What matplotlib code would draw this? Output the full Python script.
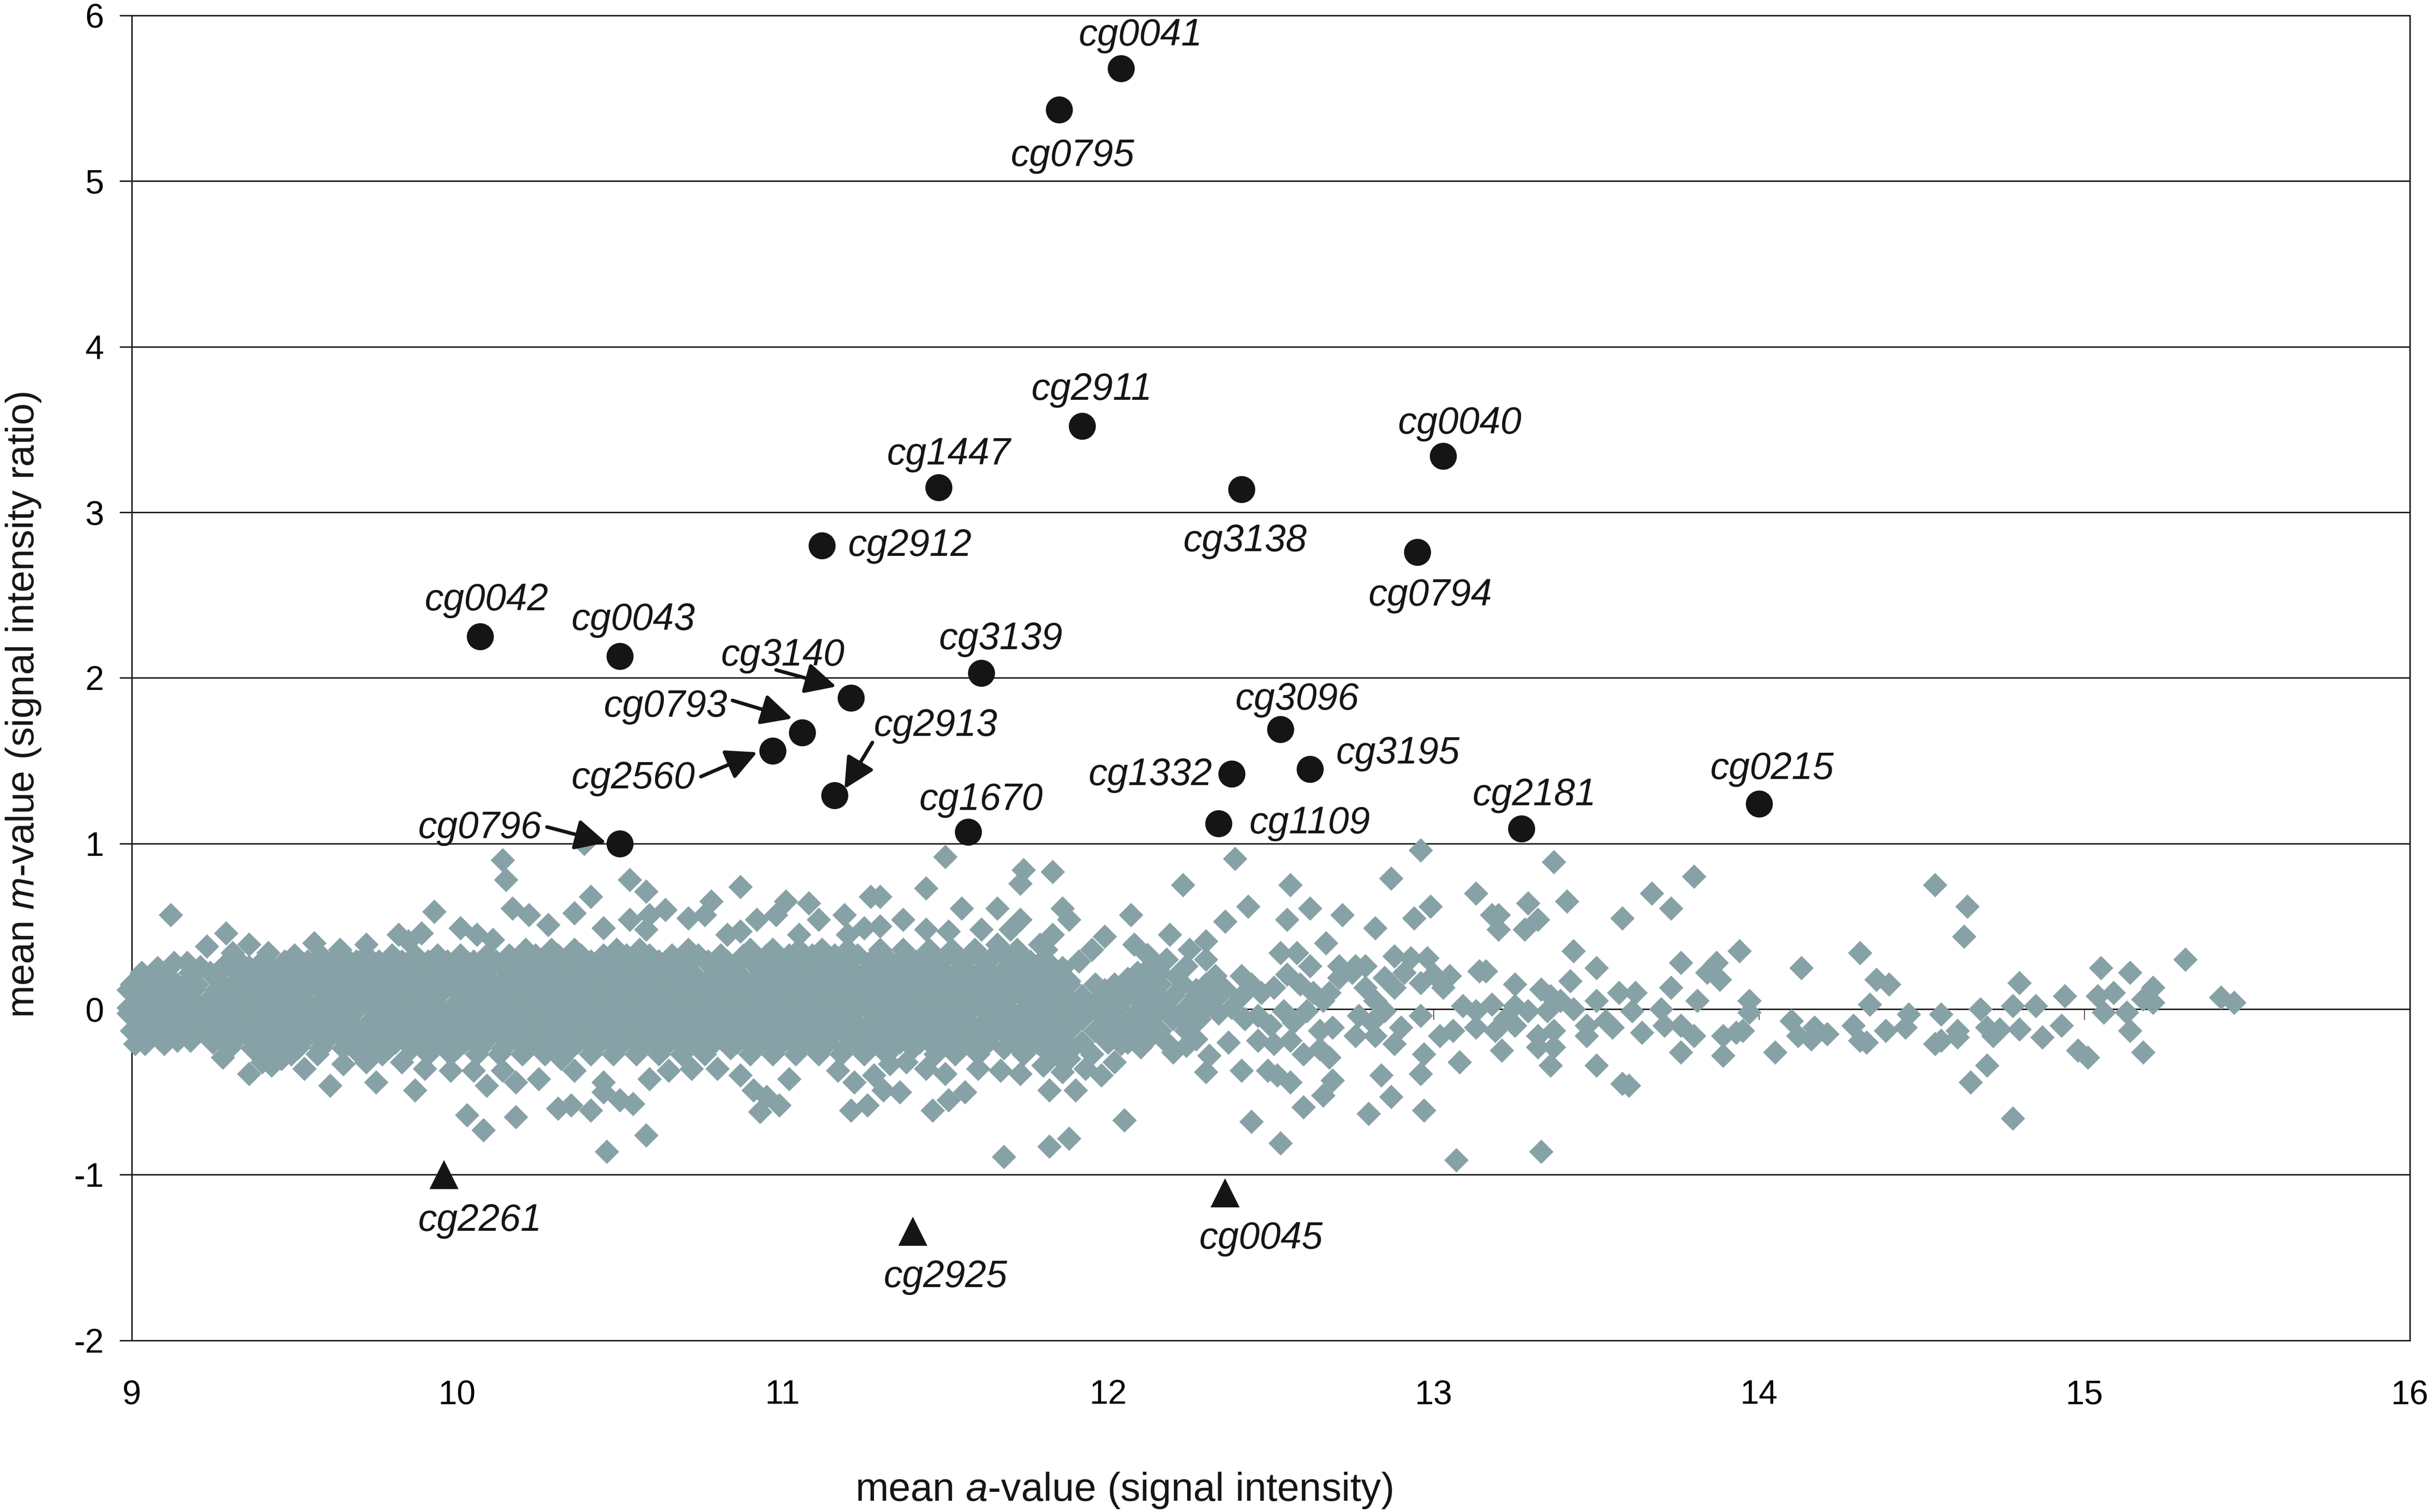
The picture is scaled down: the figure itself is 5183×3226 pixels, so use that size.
"""
MA plot of probe signal: mean a-value against mean m-value,
with the called probes marked and labelled.
"""
import numpy as np
import matplotlib
matplotlib.use('Agg')
import matplotlib.pyplot as plt

plt.rcParams['font.family'] = ['Liberation Sans', 'DejaVu Sans']
plt.rcParams['mathtext.fontset'] = 'custom'
plt.rcParams['mathtext.rm'] = 'Liberation Sans'
plt.rcParams['mathtext.it'] = 'Liberation Sans:italic'
plt.rcParams['axes.unicode_minus'] = False

# ---- probes with m-value above 1 (black dots)
up_names = ['cg0041', 'cg0795', 'cg2911', 'cg0040', 'cg1447', 'cg3138', 'cg2912',
            'cg0794', 'cg0042', 'cg0043', 'cg3139', 'cg3140', 'cg0793', 'cg2560',
            'cg2913', 'cg3096', 'cg3195', 'cg1332', 'cg0215', 'cg1109', 'cg2181',
            'cg1670', 'cg0796']
up_a = [12.04, 11.85, 11.92, 13.03, 11.48, 12.41, 11.12, 12.95, 10.07, 10.50, 11.61,
        11.21, 11.06, 10.97, 11.16, 12.53, 12.62, 12.38, 14.00, 12.34, 13.27, 11.57, 10.50]
up_m = [5.68, 5.43, 3.52, 3.34, 3.15, 3.14, 2.80, 2.76, 2.25, 2.13, 2.03, 1.88, 1.67,
        1.56, 1.29, 1.69, 1.45, 1.42, 1.24, 1.12, 1.09, 1.07, 1.00]

# ---- probes with m-value below -1 (black triangles)
down_names = ['cg2261', 'cg2925', 'cg0045']
down_a = [9.96, 11.40, 12.36]
down_m = [-1.00, -1.34, -1.11]

# ---- the bulk of the probes (grey diamonds)
# dense band, one list of a-values per m-value row
band_rows = {
    0.36: [10.21, 10.29, 10.36, 10.49, 10.56, 10.71, 10.90, 10.97, 11.05, 11.12, 11.20,
           11.30, 11.37, 11.45, 11.52, 11.59, 11.67, 11.72, 11.81],
    0.325: [9.50, 9.58, 9.65, 9.72, 9.80, 9.87, 9.94, 10.01, 10.09, 10.16, 10.24, 10.31,
            10.38, 10.45, 10.52, 10.59, 10.66, 10.74, 10.81, 10.88, 10.95, 11.02, 11.09,
            11.16, 11.23, 11.31, 11.38, 11.44, 11.51, 11.58, 11.65, 11.73],
    0.29: [9.33, 9.40, 9.47, 9.54, 9.62, 9.69, 9.76, 9.83, 9.91, 9.97, 10.05, 10.12,
           10.19, 10.26, 10.34, 10.41, 10.47, 10.55, 10.62, 10.69, 10.77, 10.83, 10.91,
           10.98, 11.05, 11.12, 11.19, 11.27, 11.33, 11.41, 11.48, 11.55, 11.62, 11.70,
           11.76],
    0.255: [9.21, 9.28, 9.36, 9.43, 9.50, 9.57, 9.64, 9.71, 9.79, 9.85, 9.92, 9.99, 10.06,
            10.14, 10.21, 10.28, 10.35, 10.42, 10.49, 10.56, 10.63, 10.70, 10.78, 10.85,
            10.92, 10.99, 11.06, 11.13, 11.20, 11.27, 11.34, 11.41, 11.48, 11.55, 11.62,
            11.69, 11.76, 11.83],
    0.22: [9.10, 9.18, 9.24, 9.32, 9.39, 9.45, 9.53, 9.60, 9.66, 9.74, 9.81, 9.87, 9.95,
           10.02, 10.08, 10.16, 10.23, 10.30, 10.37, 10.44, 10.51, 10.58, 10.65, 10.72,
           10.80, 10.86, 10.94, 11.01, 11.08, 11.15, 11.22, 11.29, 11.36, 11.43, 11.50,
           11.57, 11.64, 11.71, 11.78, 11.85, 12.09, 12.16],
    0.185: [9.04, 9.11, 9.18, 9.26, 9.33, 9.40, 9.47, 9.54, 9.61, 9.68, 9.75, 9.82, 9.89,
            9.96, 10.03, 10.10, 10.17, 10.24, 10.31, 10.38, 10.46, 10.52, 10.60, 10.67,
            10.74, 10.81, 10.88, 10.95, 11.02, 11.09, 11.16, 11.23, 11.30, 11.37, 11.44,
            11.51, 11.58, 11.65, 11.72, 11.79, 11.86, 12.06, 12.13],
    0.15: [9.00, 9.07, 9.14, 9.20, 9.28, 9.35, 9.42, 9.49, 9.57, 9.63, 9.70, 9.77, 9.85,
           9.91, 9.98, 10.05, 10.13, 10.19, 10.26, 10.34, 10.40, 10.47, 10.55, 10.61,
           10.69, 10.76, 10.83, 10.90, 10.97, 11.04, 11.11, 11.18, 11.25, 11.32, 11.39,
           11.46, 11.54, 11.60, 11.67, 11.74, 11.81, 11.88, 11.96, 12.02, 12.09, 12.16,
           12.23],
    0.115: [8.99, 9.05, 9.12, 9.19, 9.26, 9.33, 9.40, 9.47, 9.54, 9.61, 9.68, 9.75, 9.82,
            9.89, 9.96, 10.03, 10.10, 10.17, 10.24, 10.31, 10.38, 10.45, 10.52, 10.59,
            10.66, 10.73, 10.80, 10.87, 10.94, 11.01, 11.08, 11.15, 11.22, 11.29, 11.36,
            11.43, 11.50, 11.57, 11.64, 11.71, 11.78, 11.85, 11.99, 12.06, 12.13,
            12.27, 12.34],
    0.08: [9.01, 9.04, 9.11, 9.17, 9.25, 9.31, 9.38, 9.46, 9.52, 9.60, 9.67, 9.73, 9.81,
           9.88, 9.94, 10.02, 10.09, 10.16, 10.23, 10.30, 10.37, 10.44, 10.51, 10.58,
           10.65, 10.72, 10.79, 10.86, 10.93, 11.00, 11.07, 11.14, 11.22, 11.28, 11.36,
           11.42, 11.50, 11.57, 11.64, 11.70, 11.78, 11.85, 11.92, 11.99, 12.06, 12.13,
           12.20, 12.27, 12.34, 12.41],
    0.045: [9.03, 9.09, 9.16, 9.23, 9.30, 9.37, 9.44, 9.51, 9.58, 9.65, 9.72, 9.79, 9.86,
            9.93, 10.00, 10.07, 10.14, 10.21, 10.28, 10.35, 10.42, 10.49, 10.56, 10.63,
            10.70, 10.77, 10.84, 10.91, 10.98, 11.05, 11.12, 11.19, 11.26, 11.33, 11.40,
            11.47, 11.54, 11.61, 11.68, 11.75, 11.82, 11.89, 11.96, 12.03, 12.10, 12.17,
            12.31],
    0.01: [8.99, 9.07, 9.13, 9.21, 9.27, 9.35, 9.41, 9.49, 9.56, 9.63, 9.69, 9.77, 9.84,
           9.91, 9.99, 10.05, 10.12, 10.20, 10.27, 10.33, 10.41, 10.48, 10.54, 10.62,
           10.69, 10.75, 10.83, 10.90, 10.96, 11.04, 11.11, 11.18, 11.26, 11.32, 11.39,
           11.47, 11.53, 11.61, 11.67, 11.75, 11.82, 11.89, 11.95, 12.03, 12.10, 12.17,
           12.24, 12.30, 12.38],
    -0.025: [8.99, 9.05, 9.12, 9.19, 9.26, 9.33, 9.40, 9.47, 9.54, 9.61, 9.68, 9.75, 9.82,
             9.89, 9.96, 10.03, 10.10, 10.17, 10.24, 10.31, 10.38, 10.45, 10.52, 10.59,
             10.66, 10.73, 10.80, 10.87, 10.94, 11.01, 11.08, 11.15, 11.22, 11.29, 11.36,
             11.43, 11.50, 11.57, 11.64, 11.71, 11.78, 11.85, 11.92, 11.99, 12.13,
             12.20, 12.34],
    -0.06: [9.02, 9.10, 9.17, 9.24, 9.31, 9.38, 9.45, 9.53, 9.59, 9.66, 9.74, 9.80, 9.88,
            9.95, 10.01, 10.09, 10.16, 10.22, 10.30, 10.37, 10.45, 10.51, 10.58, 10.66,
            10.72, 10.79, 10.87, 10.93, 11.01, 11.07, 11.15, 11.21, 11.29, 11.35, 11.43,
            11.50, 11.56, 11.64, 11.71, 11.78, 11.85, 11.92, 11.99, 12.07, 12.13, 12.20,
            12.28, 12.42],
    -0.095: [9.03, 9.09, 9.16, 9.23, 9.30, 9.37, 9.44, 9.51, 9.58, 9.65, 9.72, 9.79, 9.86,
             9.93, 10.00, 10.07, 10.14, 10.21, 10.28, 10.35, 10.42, 10.49, 10.56, 10.63,
             10.70, 10.77, 10.84, 10.91, 10.98, 11.05, 11.12, 11.19, 11.26, 11.33, 11.40,
             11.47, 11.54, 11.61, 11.68, 11.75, 11.82, 11.89, 12.03, 12.10, 12.24],
    -0.13: [9.00, 9.06, 9.14, 9.21, 9.28, 9.34, 9.42, 9.49, 9.56, 9.63, 9.70, 9.78, 9.84,
            9.92, 9.98, 10.05, 10.12, 10.19, 10.27, 10.33, 10.41, 10.48, 10.55, 10.61,
            10.68, 10.76, 10.82, 10.90, 10.97, 11.04, 11.11, 11.19, 11.25, 11.33, 11.39,
            11.46, 11.53, 11.60, 11.68, 11.74, 11.82, 11.88, 11.96, 12.02, 12.10, 12.16,
            12.24],
    -0.165: [9.05, 9.12, 9.19, 9.26, 9.33, 9.40, 9.47, 9.54, 9.61, 9.68, 9.75, 9.82, 9.89,
             9.96, 10.03, 10.10, 10.17, 10.24, 10.31, 10.38, 10.45, 10.52, 10.59, 10.66,
             10.73, 10.80, 10.87, 10.94, 11.01, 11.08, 11.15, 11.22, 11.29, 11.36, 11.43,
             11.50, 11.57, 11.64, 11.71, 11.78, 11.85, 11.99, 12.06, 12.13],
    -0.20: [9.25, 9.31, 9.38, 9.46, 9.52, 9.59, 9.67, 9.73, 9.81, 9.87, 9.95, 10.02, 10.08,
            10.16, 10.23, 10.30, 10.37, 10.44, 10.51, 10.58, 10.65, 10.73, 10.79, 10.86,
            10.93, 11.00, 11.08, 11.14, 11.22, 11.29, 11.36, 11.42, 11.50, 11.57, 11.63,
            11.71, 11.78, 11.85, 11.92, 12.00, 12.06],
    -0.235: [9.30, 9.37, 9.44, 9.51, 9.58, 9.65, 9.72, 9.79, 9.86, 9.93, 10.00, 10.07,
             10.14, 10.21, 10.28, 10.35, 10.42, 10.49, 10.56, 10.63, 10.70, 10.77, 10.84,
             10.91, 10.98, 11.05, 11.12, 11.19, 11.26, 11.33, 11.40, 11.47, 11.54, 11.61,
             11.68, 11.75, 11.82, 11.89],
    -0.27: [9.42, 9.49, 9.57, 9.70, 9.77, 9.91, 9.98, 10.06, 10.13, 10.20, 10.27, 10.41,
            10.48, 10.55, 10.62, 10.69, 10.76, 10.90, 10.97, 11.04, 11.11, 11.18, 11.25,
            11.32, 11.47, 11.53, 11.60, 11.74, 11.82],
}

# scattered probes around the band, (a, m)
spread_left = [
    (9.12, 0.57), (9.29, 0.46), (9.23, 0.38), (9.36, 0.39), (9.13, 0.28), (9.08, 0.25),
    (9.03, 0.22), (9.42, 0.34), (9.50, 0.28), (9.56, 0.40), (9.63, 0.31), (9.72, 0.39),
    (9.82, 0.45), (9.89, 0.46), (9.93, 0.59), (10.01, 0.49), (10.06, 0.45), (10.11, 0.42),
    (9.85, 0.41), (9.64, 0.36), (9.31, 0.34), (9.17, 0.28),
    (9.01, -0.21), (9.04, -0.21), (9.10, -0.21), (9.14, -0.19), (9.18, -0.19),
    (9.28, -0.29), (9.36, -0.39), (9.43, -0.34), (9.53, -0.36), (9.61, -0.46),
    (9.75, -0.44), (9.87, -0.49), (9.90, -0.36), (9.98, -0.37), (10.03, -0.64),
    (10.08, -0.73), (10.09, -0.46), (10.05, -0.37), (9.72, -0.32), (9.65, -0.33),
    (9.46, -0.30), (9.40, -0.32), (9.83, -0.32),
]
spread_mid = [
    (10.39, 1.00), (10.41, 0.68), (10.53, 0.78), (10.58, 0.71), (10.87, 0.74), (11.27, 0.68),
    (10.78, 0.65), (11.08, 0.64), (11.01, 0.65), (10.64, 0.60), (10.14, 0.90), (10.15, 0.78),
    (10.17, 0.61), (10.22, 0.57), (10.36, 0.58), (10.53, 0.54), (10.59, 0.57), (10.71, 0.55),
    (10.76, 0.57), (10.92, 0.54), (10.98, 0.57), (11.11, 0.54), (11.19, 0.57), (11.25, 0.49),
    (10.28, 0.51), (10.45, 0.49), (10.87, 0.47), (11.05, 0.45), (11.20, 0.45), (10.83, 0.45),
    (10.58, 0.48),
    (10.46, -0.86), (10.58, -0.76), (10.18, -0.65), (10.31, -0.60), (10.35, -0.58),
    (10.41, -0.61), (10.54, -0.57), (10.93, -0.62), (10.99, -0.58), (11.21, -0.61),
    (11.26, -0.58), (10.45, -0.50), (10.50, -0.55), (10.91, -0.49), (10.95, -0.53),
    (10.25, -0.42), (10.18, -0.44), (10.45, -0.44), (10.59, -0.42), (10.65, -0.37),
    (10.72, -0.36), (10.80, -0.36), (10.87, -0.40), (11.02, -0.42), (11.17, -0.37),
    (11.22, -0.44), (11.28, -0.40), (10.36, -0.37), (10.32, -0.30), (10.14, -0.37),
    (11.50, 0.92), (11.44, 0.73), (11.74, 0.84), (11.73, 0.76), (11.83, 0.83), (12.39, 0.91),
    (12.23, 0.75), (12.36, 0.53), (12.30, 0.41), (12.43, 0.62), (11.30, 0.68), (11.55, 0.61),
    (11.66, 0.61), (11.86, 0.61), (12.07, 0.57), (11.44, 0.48), (11.37, 0.54), (11.73, 0.54),
    (11.88, 0.54), (12.19, 0.45), (12.41, 0.20), (12.33, 0.20), (12.24, 0.26), (11.99, 0.44),
    (11.95, 0.36), (12.08, 0.39), (12.13, 0.26), (11.91, 0.29), (11.83, 0.45), (11.79, 0.39),
    (11.70, 0.48), (11.66, 0.39), (11.61, 0.48), (11.51, 0.47), (11.30, 0.50),
    (11.80, 0.30), (11.86, 0.25), (11.88, 0.17), (12.12, 0.33), (12.18, 0.30), (12.25, 0.36),
    (12.30, 0.30), (12.21, 0.20), (12.30, 0.15), (12.36, 0.12),
    (11.68, -0.89), (11.82, -0.83), (11.88, -0.78), (12.05, -0.67), (11.46, -0.61),
    (11.51, -0.55), (11.56, -0.50), (11.36, -0.50), (11.31, -0.49), (11.82, -0.49),
    (11.90, -0.49), (12.02, -0.32), (12.30, -0.38), (12.41, -0.37), (12.20, -0.26),
    (12.37, -0.20), (12.27, -0.18), (12.10, -0.23), (12.04, -0.21), (11.95, -0.27),
    (11.88, -0.30), (11.80, -0.34), (11.73, -0.39), (11.67, -0.37), (11.60, -0.36),
    (11.50, -0.39), (11.44, -0.36), (11.38, -0.32), (11.33, -0.33),
    (11.82, -0.22), (11.86, -0.38), (11.93, -0.36), (11.98, -0.40), (11.84, -0.27),
    (12.12, -0.18), (12.18, -0.20), (12.24, -0.22), (12.31, -0.28),
]
spread_right = [
    (12.96, 0.96), (13.37, 0.89), (12.56, 0.75), (12.87, 0.79), (12.62, 0.61), (12.55, 0.54),
    (12.72, 0.57), (12.82, 0.49), (12.94, 0.55), (12.99, 0.62), (13.13, 0.70), (13.29, 0.64),
    (13.41, 0.65), (13.58, 0.55), (13.18, 0.57), (13.20, 0.57), (13.20, 0.48), (13.32, 0.54),
    (13.28, 0.48), (13.43, 0.35), (13.50, 0.25), (12.67, 0.40), (12.53, 0.34), (12.58, 0.34),
    (12.62, 0.26), (12.71, 0.26), (12.76, 0.26), (12.79, 0.26), (12.88, 0.32), (12.93, 0.31),
    (12.98, 0.31), (13.05, 0.20), (13.14, 0.23), (13.16, 0.23), (13.25, 0.15), (13.33, 0.12),
    (13.36, 0.08), (13.42, 0.17), (13.57, 0.10), (13.50, 0.05), (13.47, -0.10), (13.55, -0.11),
    (13.53, -0.07),
    (12.44, 0.15), (12.47, 0.10), (12.51, 0.13), (12.55, 0.21), (12.59, 0.15), (12.63, 0.10),
    (12.66, 0.05), (12.46, -0.04), (12.50, -0.10), (12.54, -0.01), (12.57, -0.08),
    (12.61, -0.01), (12.65, -0.13), (12.69, -0.11), (12.46, -0.19), (12.51, -0.21),
    (12.56, -0.19), (12.60, -0.27), (12.65, -0.24), (12.68, -0.29), (12.49, -0.37),
    (12.52, -0.40), (12.56, -0.44), (12.69, -0.43), (12.66, -0.52), (12.60, -0.59),
    (12.44, -0.68), (12.53, -0.81), (12.71, 0.19), (12.68, 0.10),
    (12.75, 0.22), (12.79, 0.13), (12.82, 0.05), (12.85, 0.19), (12.88, 0.13), (12.91, 0.22),
    (12.96, 0.16), (13.00, 0.21), (13.03, 0.13), (12.77, -0.04), (12.81, -0.08),
    (12.85, -0.01), (12.90, -0.11), (12.96, -0.04), (12.76, -0.16), (12.82, -0.16),
    (12.88, -0.21), (12.97, -0.27), (12.96, -0.39), (12.84, -0.40), (12.87, -0.53),
    (12.80, -0.63), (12.97, -0.61), (13.02, -0.16), (13.06, -0.13), (13.08, -0.32),
    (13.09, 0.02), (13.13, -0.01), (13.18, 0.03), (13.22, -0.06), (13.25, 0.02),
    (13.29, -0.01), (13.35, -0.01), (13.39, 0.05), (13.43, 0.00), (13.13, -0.11),
    (13.19, -0.13), (13.25, -0.10), (13.32, -0.16), (13.37, -0.13), (13.32, -0.23),
    (13.37, -0.23), (13.47, -0.16), (13.21, -0.25), (13.36, -0.34), (13.50, -0.34),
    (13.58, -0.45), (13.07, -0.91), (13.33, -0.86),
    (13.67, 0.70), (13.73, 0.61), (13.80, 0.80), (13.76, 0.28), (13.87, 0.28), (13.88, 0.18),
    (13.84, 0.22), (13.94, 0.35), (13.97, 0.05), (13.97, -0.02), (13.62, 0.10), (13.61, -0.01),
    (13.64, -0.14), (13.73, 0.13), (13.70, 0.00), (13.71, -0.10), (13.76, -0.10), (13.81, 0.05),
    (13.80, -0.16), (13.76, -0.26), (13.89, -0.16), (13.93, -0.14), (13.95, -0.13),
    (13.89, -0.28), (13.60, -0.46), (14.05, -0.26), (14.10, -0.07), (14.12, -0.16),
    (14.13, 0.25), (14.17, -0.11), (14.16, -0.18), (14.21, -0.15), (14.31, 0.34), (14.36, 0.18),
    (14.40, 0.15), (14.34, 0.03), (14.29, -0.10), (14.31, -0.19), (14.33, -0.20), (14.39, -0.13),
    (14.46, -0.03), (14.45, -0.11), (14.54, 0.75), (14.64, 0.62), (14.63, 0.44), (14.56, -0.03),
    (14.56, -0.19), (14.54, -0.21), (14.61, -0.13), (14.61, -0.17), (14.68, 0.00),
    (14.70, -0.11), (14.72, -0.16), (14.65, -0.44), (14.70, -0.34),
    (14.80, 0.16), (14.78, 0.02), (14.85, 0.02), (14.74, -0.12), (14.80, -0.12), (14.87, -0.17),
    (14.94, 0.08), (14.93, -0.10), (14.98, -0.25), (15.01, -0.29), (15.05, 0.25), (15.04, 0.08),
    (15.06, -0.02), (15.09, 0.10), (15.14, 0.22), (15.13, -0.02), (15.14, -0.13),
    (15.18, -0.26), (15.18, 0.06), (15.21, 0.13), (15.21, 0.04), (15.31, 0.30), (15.42, 0.07),
    (15.46, 0.04), (14.78, -0.66),
]

x_ticks = [9, 10, 11, 12, 13, 14, 15, 16]
y_ticks = [-2, -1, 0, 1, 2, 3, 4, 5, 6]

# label placement (text centre x, baseline y) and optional arrow (start, tip)
label_pos = {
    'cg0041': (12.10, 5.82), 'cg0795': (11.89, 5.09), 'cg2911': (11.95, 3.68),
    'cg0040': (13.08, 3.475), 'cg1447': (11.51, 3.29), 'cg3138': (12.42, 2.764),
    'cg2912': (11.39, 2.736), 'cg0794': (12.99, 2.437), 'cg0042': (10.09, 2.409),
    'cg0043': (10.54, 2.291), 'cg3139': (11.67, 2.175), 'cg3140': (11.00, 2.075),
    'cg0793': (10.64, 1.766), 'cg2560': (10.54, 1.333), 'cg2913': (11.47, 1.651),
    'cg3096': (12.58, 1.81), 'cg3195': (12.89, 1.483), 'cg1332': (12.13, 1.352),
    'cg0215': (14.04, 1.389), 'cg1109': (12.62, 1.062), 'cg2181': (13.31, 1.23),
    'cg1670': (11.61, 1.202), 'cg0796': (10.07, 1.033),
    'cg2261': (10.07, -1.337), 'cg2925': (11.50, -1.679), 'cg0045': (12.47, -1.445),
}
arrows = {
    'cg3140': ((10.98, 2.048), (11.165, 1.948)),
    'cg0793': ((10.846, 1.864), (11.03, 1.755)),
    'cg2560': ((10.749, 1.404), (10.922, 1.551)),
    'cg2913': ((11.276, 1.61), (11.19, 1.33)),
    'cg0796': ((10.276, 1.100), (10.458, 1.006)),
}

grey = '#87a2a6'
ink = '#151515'
line_col = '#1e1e1e'

fig = plt.figure(figsize=(51.83, 32.26), dpi=100)
ax = fig.add_axes([0.0542, 0.1135, 0.9375, 0.8763])
ax.set_xlim(9, 16)
ax.set_ylim(-2, 6)

# grid and frame
ax.set_axisbelow(True)
ax.set_yticks(y_ticks)
ax.set_xticks(x_ticks)
ax.yaxis.grid(True, color=line_col, lw=2.2)
for s in ax.spines.values():
    s.set_color(line_col)
    s.set_linewidth(2.2)
    s.set_zorder(1)
ax.tick_params(axis='y', length=18.7, width=2.2, pad=24, labelsize=52, color=line_col)
ax.tick_params(axis='x', length=0, pad=60, labelsize=52)

# horizontal axis drawn through m = 0 with its tick marks
ax.axhline(0, color=line_col, lw=1.1, zorder=1)
ax.vlines(x_ticks, -0.065, 0, color=line_col, lw=1.1, zorder=1)

# grey diamonds
diamond = [(0, 1), (1, 0), (0, -1), (-1, 0), (0, 1)]
band_a, band_m = [], []
for m_val, a_vals in band_rows.items():
    band_a += a_vals
    band_m += [m_val] * len(a_vals)
spread = spread_left + spread_mid + spread_right
all_a = np.array(band_a + [p[0] for p in spread])
all_m = np.array(band_m + [p[1] for p in spread])
ax.plot(all_a, all_m, ls='none', marker=diamond, ms=37.5, mew=0, color=grey,
        zorder=3, clip_on=False)

# called probes
ax.plot(up_a, up_m, ls='none', marker='o', ms=41.5, mew=0, color=ink, zorder=5)
ax.plot(down_a, down_m, ls='none', marker='^', ms=44, mew=0, color=ink, zorder=5)

for name in up_names + down_names:
    tx, ty = label_pos[name]
    ax.text(tx, ty, name, ha='center', va='baseline', fontsize=58, style='italic',
            color=ink, zorder=6)
for name, (start, tip) in arrows.items():
    ax.annotate('', xy=tip, xytext=start,
                arrowprops=dict(arrowstyle='-|>,head_length=2.0,head_width=1.0',
                                mutation_scale=20, lw=5.5, color=ink,
                                shrinkA=0, shrinkB=0),
                zorder=6)

fig.text(50 / 5183, 1 - 1504 / 3226, r'mean $\mathit{m}$-value (signal intensity ratio)',
         rotation=90, ha='center', va='center', fontsize=60, color=ink)
fig.text(2397 / 5183, 1 - 3180 / 3226, r'mean $\mathit{a}$-value (signal intensity)',
         ha='center', va='center', fontsize=61, color=ink)

fig.savefig('out.png', dpi=100, facecolor='white')
